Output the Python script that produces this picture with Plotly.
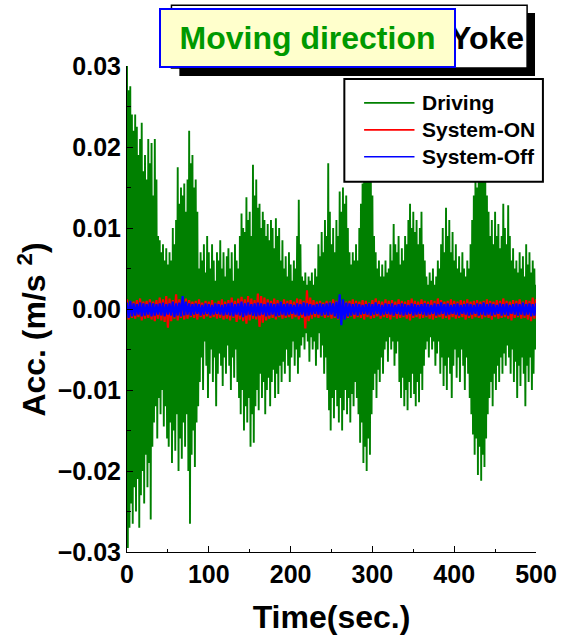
import plotly.graph_objects as go

# ---------------- data (acceleration peaks, in 1e-3 m/s^2) ----------------
# Driving: positive peaks at t = 0,2,...,500 s ; negative peaks at t = 1,3,...,499 s
driving_pos_milli = [
    30, 27, 27.5, 24, 22, 24, 22.5, 19, 21, 23,
    17, 19, 16, 21, 18, 20.5, 14, 21, 16, 9,
    8.5, 7, 8, 6, 7.5, 5.5, 7, 6, 10, 8,
    11, 17.5, 13, 15, 14, 15.5, 12, 16, 22, 18,
    19, 15, 16, 12, 5, 7, 6, 8, 4.5, 9,
    7, 5, 8, 6, 3.5, 7, 6, 8.5, 5, 7,
    4, 6.5, 7.5, 5, 7, 3.5, 8, 6, 5, 9,
    11.8, 10, 9.5, 13.8, 11, 12, 9, 17.8, 14, 16,
    12.5, 13, 10, 12, 11, 9, 10.5, 8.5, 11, 10,
    7.5, 11.2, 9, 10, 6, 8.5, 5, 6.5, 4, 7,
    5.5, 3.5, 6, 5, 9, 13.5, 8, 4, 3.5, 4.5,
    3, 4, 3.5, 4.5, 3, 5, 4, 8, 6.5, 9.5,
    7, 11, 9, 18, 12, 8, 10, 7, 11, 9,
    14.5, 12, 15, 13, 14, 10, 7, 5.5, 7, 6,
    8, 6, 10, 13, 15.5, 18, 19.5, 17, 16, 18.5,
    14, 9, 7, 5, 6, 4, 5.5, 4, 6, 4.5,
    5, 8, 6, 10.5, 8, 7, 9, 5.5, 7.5, 6,
    9, 8, 11, 13, 10, 12, 9.5, 11, 8, 10,
    12, 8, 6, 4, 3, 4.5, 3.5, 5, 3, 4,
    6, 5, 8, 10, 7, 12.5, 9, 11, 7, 9.5,
    6, 8, 5, 6.5, 4.5, 7, 5, 4, 6, 5,
    8, 11, 14, 17, 15, 18.5, 16, 19, 17.5, 16,
    14, 12, 9, 11, 8, 12, 9, 10.5, 7.5, 9,
    13, 10, 8, 12.8, 9, 6, 7.5, 5, 6, 4.5,
    7, 5, 6.5, 4, 8, 5.5, 7, 4.5, 6, 5,
    3,
]
driving_neg_milli = [
    -29.5, -27, -24, -26.5, -22, -25, -21, -27, -23, -20,
    -24, -18, -22, -19, -26, -17, -14, -12, -16, -11,
    -13, -10, -14.5, -12, -16, -17, -14, -19, -15, -17.5,
    -13, -20, -16, -18.5, -14, -17, -13, -20, -26.5, -18,
    -15, -19.5, -14, -12, -9, -6, -10, -4, -7, -11,
    -8, -5, -9, -6, -12, -8, -5.5, -7, -9.5, -6,
    -8, -4.5, -7, -10, -6, -8.5, -5, -9, -11, -13,
    -10, -15, -12, -14, -11, -17, -13, -16.5, -12, -10,
    -12.5, -8, -11, -9, -13, -10, -8.5, -12, -9, -7.5,
    -11, -8, -10.5, -7, -9, -6.5, -8, -5, -7, -9,
    -6, -4, -7, -5, -8, -6, -4.5, -3.5, -5, -3,
    -4, -6.5, -3.5, -5, -4, -7, -5, -3, -6, -4.5,
    -8, -6, -10, -12.5, -15, -11, -13.5, -10, -12, -14,
    -11, -15, -12.5, -10, -13, -11, -14, -10.5, -12, -9,
    -11, -13, -16.5, -14, -19, -17, -20, -16, -18, -13,
    -10, -8, -11, -7.5, -9, -6, -8, -5, -4, -6.5,
    -3.5, -5, -4, -7, -5.5, -4, -9, -11, -8.5, -12,
    -10, -12.5, -9, -11, -8, -10.5, -12, -9, -11.5, -8,
    -10, -7, -5, -4, -6, -3.5, -5, -4, -7, -5.5,
    -4, -8, -6, -9.5, -7, -10, -6, -8, -11, -7,
    -5, -8.5, -6, -9, -5, -7, -10, -6, -8, -11,
    -13, -15.5, -18, -16, -20.5, -17, -21.2, -18, -19.5, -16,
    -13, -11, -9, -12, -8, -10, -7, -9, -6, -8,
    -5.5, -7, -4.5, -6, -8, -5, -9, -6.5, -11, -7,
    -9.5, -6, -8, -12, -7, -9, -6, -10, -8, -5,
]
# System-ON: positive peaks at t = 0,4,...,500 s ; negative peaks at t = 2,6,...,498 s
system_on_pos_milli = [
    1.2, 1.0, 0.9, 1.1, 1.3, 0.9, 1.0, 1.2, 0.9, 1.1,
    1.4, 1.2, 1.6, 1.3, 1.1, 1.8, 1.2, 1.0, 1.3, 1.1,
    0.9, 1.0, 1.2, 0.8, 1.0, 0.9, 1.1, 0.8, 1.0, 1.2,
    0.9, 1.1, 1.4, 1.0, 1.3, 1.5, 1.2, 1.6, 1.3, 1.1,
    1.9, 1.6, 1.4, 1.2, 1.0, 1.3, 1.1, 0.9, 1.2, 1.0,
    1.1, 0.9, 1.3, 1.2, 1.0, 2.3, 1.4, 1.1, 0.9, 1.0,
    0.8, 1.0, 0.9, 1.2, 1.0, 1.4, 1.1, 0.9, 1.0, 1.2,
    1.0, 0.9, 1.1, 1.0, 0.8, 1.1, 1.3, 1.0, 0.9, 1.2,
    1.0, 1.1, 0.9, 1.2, 1.0, 0.9, 1.1, 1.3, 1.0, 0.9,
    1.2, 1.0, 0.9, 1.1, 1.0, 1.3, 1.1, 0.9, 1.0, 1.2,
    1.0, 0.9, 1.1, 1.0, 1.2, 0.9, 1.0, 1.1, 0.9, 1.0,
    1.2, 1.0, 0.9, 1.1, 1.0, 1.3, 1.0, 0.9, 1.1, 1.0,
    1.2, 0.9, 1.1, 1.0, 1.4, 1.2,
]
system_on_neg_milli = [
    -1.3, -1.1, -1.2, -1.0, -1.4, -1.2, -1.1, -1.3, -1.5, -1.2,
    -1.4, -1.6, -2.3, -1.5, -1.2, -1.4, -1.1, -1.3, -1.2, -1.0,
    -1.1, -1.3, -1.0, -1.2, -0.9, -1.1, -1.0, -1.2, -1.1, -1.3,
    -1.2, -1.4, -1.1, -1.6, -1.3, -1.5, -1.8, -1.4, -1.2, -1.3,
    -2.2, -1.7, -1.4, -1.2, -1.1, -1.3, -1.0, -1.2, -1.1, -1.0,
    -1.2, -1.0, -1.3, -1.1, -2.4, -1.5, -1.2, -1.0, -1.1, -0.9,
    -1.1, -1.0, -1.2, -1.1, -1.3, -1.0, -1.2, -1.1, -0.9, -1.2,
    -1.0, -1.1, -1.3, -1.0, -1.2, -1.1, -0.9, -1.2, -1.0, -1.1,
    -1.3, -1.0, -1.2, -1.1, -1.0, -1.2, -1.4, -1.1, -1.0, -1.2,
    -1.1, -1.0, -1.2, -1.3, -1.1, -1.0, -1.2, -1.1, -1.3, -1.0,
    -1.2, -1.1, -1.0, -1.3, -1.1, -1.2, -1.0, -1.1, -1.2, -1.0,
    -1.1, -1.3, -1.0, -1.2, -1.1, -1.0, -1.2, -1.4, -1.1, -1.0,
    -1.2, -1.1, -1.3, -1.5, -1.2,
]
# System-Off: same sampling as System-ON
system_off_pos_milli = [
    0.8, 1.0, 0.7, 0.6, 0.8, 0.7, 0.6, 0.8, 0.7, 0.6,
    0.7, 0.8, 0.6, 0.7, 0.9, 0.7, 0.8, 1.6, 0.9, 0.7,
    0.6, 0.7, 0.6, 0.5, 0.7, 0.6, 0.5, 0.7, 0.6, 0.5,
    0.6, 0.7, 0.8, 0.6, 0.7, 0.9, 0.7, 0.8, 0.6, 0.7,
    0.8, 0.7, 0.6, 0.8, 0.7, 0.6, 0.7, 0.9, 0.6, 0.7,
    0.6, 0.5, 0.7, 0.6, 0.8, 0.7, 0.6, 0.5, 0.6, 0.7,
    0.6, 0.7, 0.8, 0.7, 0.9, 1.8, 1.2, 0.8, 0.7, 0.6,
    0.7, 0.6, 0.5, 0.6, 0.7, 0.6, 0.8, 0.6, 0.5, 0.7,
    0.6, 0.7, 0.5, 0.6, 0.7, 0.6, 0.5, 0.7, 0.6, 0.5,
    0.6, 0.7, 0.6, 0.5, 0.7, 0.6, 0.8, 0.6, 0.7, 0.5,
    0.6, 0.7, 0.5, 0.6, 0.7, 0.6, 0.5, 0.7, 0.6, 0.8,
    0.6, 0.7, 0.6, 0.5, 0.7, 0.6, 0.7, 0.5, 0.6, 0.7,
    0.6, 0.8, 0.6, 0.7, 0.6, 0.7,
]
system_off_neg_milli = [
    -1.1, -0.9, -0.8, -0.7, -0.9, -0.8, -0.7, -0.9, -0.8, -0.7,
    -0.8, -0.9, -0.7, -0.8, -1.0, -0.8, -0.9, -0.8, -0.7, -0.8,
    -0.7, -0.6, -0.8, -0.7, -0.6, -0.8, -0.7, -0.6, -0.7, -0.8,
    -0.7, -0.8, -0.9, -0.7, -0.8, -1.0, -0.8, -0.7, -0.8, -0.9,
    -0.8, -0.7, -0.9, -0.8, -0.7, -0.9, -0.8, -0.7, -0.8, -0.7,
    -0.6, -0.7, -0.8, -0.7, -0.9, -0.8, -0.7, -0.6, -0.7, -0.8,
    -0.7, -0.8, -0.7, -0.9, -1.2, -2.0, -1.3, -0.9, -0.8, -0.7,
    -0.8, -0.7, -0.6, -0.7, -0.8, -0.7, -0.6, -0.8, -0.7, -0.6,
    -0.7, -0.8, -0.6, -0.7, -0.8, -0.7, -0.6, -0.8, -0.7, -0.6,
    -0.7, -0.8, -0.7, -0.6, -0.8, -0.7, -0.6, -0.8, -0.7, -0.6,
    -0.7, -0.8, -0.6, -0.7, -0.8, -0.7, -0.6, -0.8, -0.7, -0.8,
    -0.7, -0.8, -0.7, -0.6, -0.8, -0.7, -0.8, -0.6, -0.7, -0.8,
    -0.7, -0.8, -0.7, -0.9, -0.8,
]

series_names = ["Driving", "System-ON", "System-Off"]
series_colors = ["#008000", "#ff0000", "#0000ff"]
x_ticks = [0, 100, 200, 300, 400, 500]
y_ticks = [-0.03, -0.02, -0.01, 0.0, 0.01, 0.02, 0.03]
y_ticktext = ["\u22120.03", "\u22120.02", "\u22120.01", "0.00", "0.01", "0.02", "0.03"]


def zigzag(pos, neg, step):
    """Interleave positive and negative peaks in time order (seconds)."""
    t, v = [], []
    for i, p in enumerate(pos):
        t.append(i * step)
        v.append(p * 1e-3)
        if i < len(neg):
            t.append(i * step + step / 2)
            v.append(neg[i] * 1e-3)
    return t, v


# ---------------- layout geometry (pixels -> paper) ----------------
W, H = 569, 640
L, R, T, B = 127, 28, 66, 87
PW, PH = W - L - R, H - T - B


def px(xp):
    return (xp - L) / PW


def py(yp):
    return (H - B - yp) / PH


FONT = "Liberation Sans, Arial, sans-serif"

fig = go.Figure()
for (pos, neg, step), name, color, width in zip(
    [(driving_pos_milli, driving_neg_milli, 2),
     (system_on_pos_milli, system_on_neg_milli, 4),
     (system_off_pos_milli, system_off_neg_milli, 4)],
    series_names, series_colors, [1.9, 2.2, 2.2]):
    t, v = zigzag(pos, neg, step)
    fig.add_trace(go.Scatter(x=t, y=v, mode="lines", name=name,
                             line=dict(color=color, width=width),
                             showlegend=False, hoverinfo="skip"))

shapes = [
    # title boxes
    dict(type="rect", xref="paper", yref="paper", x0=px(180), x1=px(540), y0=py(76), y1=py(13),
         fillcolor="black", line=dict(width=0), layer="above"),
    dict(type="rect", xref="paper", yref="paper", x0=px(172), x1=px(532), y0=py(68), y1=py(5),
         fillcolor="white", line=dict(color="black", width=1.5), layer="above"),
    # legend box
    dict(type="rect", xref="paper", yref="paper", x0=px(347), x1=px(548), y0=py(182), y1=py(79),
         fillcolor="white", line=dict(color="black", width=2), layer="above"),
]
legend_rows = [103, 130, 157]
annotations = [
    dict(text="Yoke", xref="paper", yref="paper", x=px(531), y=py(38), xanchor="right", yanchor="middle",
         showarrow=False, font=dict(family=FONT, size=32, color="black", weight="bold")),
    dict(text="Moving direction", xref="paper", yref="paper", x=px(309.5), y=py(38),
         xanchor="center", yanchor="middle", showarrow=False,
         width=293, height=56, borderpad=0, borderwidth=2, bordercolor="#0000ff", bgcolor="#ffffcc",
         font=dict(family=FONT, size=32, color="#009900", weight="bold")),
    # y-axis title
    dict(text="Acc. (m/s <sup>2</sup>)", xref="paper", yref="paper", x=px(31), y=py(330),
         xanchor="center", yanchor="middle", textangle=-90, showarrow=False,
         font=dict(family=FONT, size=32, color="black", weight="bold")),
]
for name, color, yr in zip(series_names, series_colors, legend_rows):
    shapes.append(dict(type="line", xref="paper", yref="paper", x0=px(367), x1=px(418), y0=py(yr), y1=py(yr),
                       line=dict(color=color, width=1.6), layer="above"))
    annotations.append(dict(text=name, xref="paper", yref="paper", x=px(424), y=py(yr), xanchor="left",
                            yanchor="middle", showarrow=False,
                            font=dict(family=FONT, size=21, color="black", weight="bold")))

fig.update_layout(
    width=W, height=H,
    margin=dict(l=L, r=R, t=T, b=B, pad=0),
    paper_bgcolor="white", plot_bgcolor="white",
    shapes=shapes, annotations=annotations,
    showlegend=False,
    xaxis=dict(range=[0, 500], tickvals=x_ticks, ticks="inside", ticklen=6, tickcolor="black",
               showline=True, linecolor="black", linewidth=1, showgrid=False, zeroline=False,
               minor=dict(ticks="inside", ticklen=3.5, dtick=50, tickcolor="black", showgrid=False),
               tickfont=dict(family=FONT, size=25, color="black", weight="bold"),
               title=dict(text="Time(sec.)", standoff=18,
                          font=dict(family=FONT, size=32, color="black", weight="bold"))),
    yaxis=dict(range=[-0.03, 0.03], tickvals=y_ticks, ticktext=y_ticktext, ticks="inside", ticklen=6,
               tickcolor="black", showline=True, linecolor="black", linewidth=1, showgrid=False,
               zeroline=False,
               minor=dict(ticks="inside", ticklen=3.5, dtick=0.005, tickcolor="black", showgrid=False),
               tickfont=dict(family=FONT, size=25, color="black", weight="bold")),
)

fig.write_html("out.html")
